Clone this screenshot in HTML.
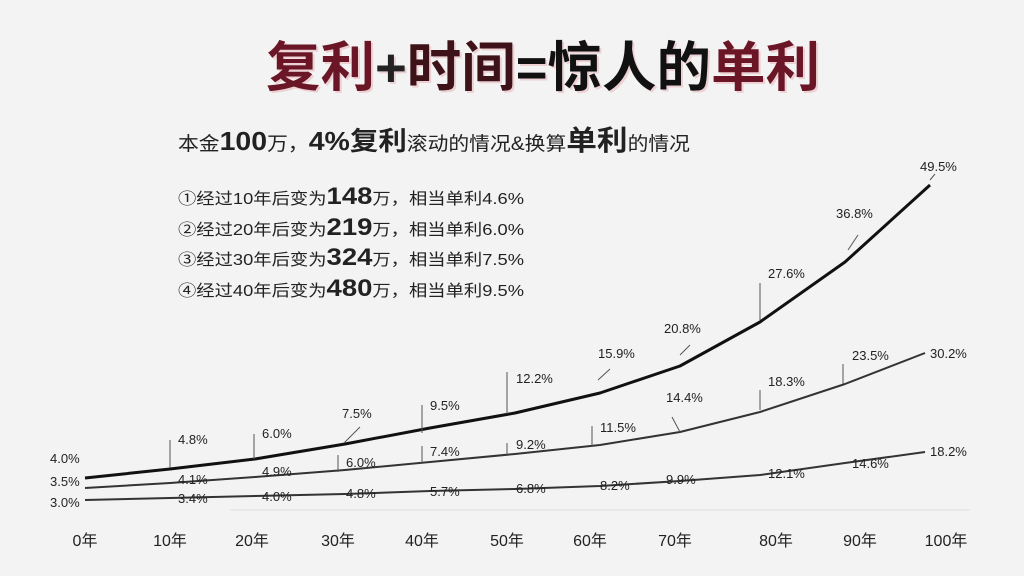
<!DOCTYPE html>
<html><head><meta charset="utf-8"><style>
body{margin:0;background:#f2f2f2;}
svg{display:block;}
text{font-family:"Liberation Sans","Noto Sans CJK SC",sans-serif;}
</style></head><body>
<svg width="1024" height="576" viewBox="0 0 1024 576">
<rect width="1024" height="576" fill="#f3f3f3"/>
<g font-size="54" font-weight="bold">
<text x="266" y="86" textLength="554" lengthAdjust="spacingAndGlyphs" fill="#ecd0d3" transform="translate(2,2)">复利+时间=惊人的单利</text>
<text x="266" y="86" textLength="554" lengthAdjust="spacingAndGlyphs" fill="#111"><tspan fill="#6a1626">复利</tspan><tspan fill="#222">+</tspan><tspan fill="#3e1219">时间</tspan>=惊人的<tspan fill="#6a1626">单利</tspan></text>
</g>
<text x="178" y="150" font-size="19" fill="#222" textLength="512" lengthAdjust="spacingAndGlyphs">本金<tspan font-size="26" font-weight="bold">100</tspan>万，<tspan font-size="26" font-weight="bold">4%复利</tspan>滚动的情况&amp;换算<tspan font-size="28" font-weight="bold">单利</tspan>的情况</text>
<g font-size="16" fill="#222">
<text x="178" y="204" textLength="346" lengthAdjust="spacingAndGlyphs">①经过10年后变为<tspan font-size="24" font-weight="bold">148</tspan>万，相当单利4.6%</text>
<text x="178" y="235" textLength="346" lengthAdjust="spacingAndGlyphs">②经过20年后变为<tspan font-size="24" font-weight="bold">219</tspan>万，相当单利6.0%</text>
<text x="178" y="265" textLength="346" lengthAdjust="spacingAndGlyphs">③经过30年后变为<tspan font-size="24" font-weight="bold">324</tspan>万，相当单利7.5%</text>
<text x="178" y="296" textLength="346" lengthAdjust="spacingAndGlyphs">④经过40年后变为<tspan font-size="24" font-weight="bold">480</tspan>万，相当单利9.5%</text>
</g>
<line x1="230" y1="510" x2="970" y2="510" stroke="#ddd" stroke-width="1"/>
<g fill="none" stroke-linejoin="round">
<polyline stroke="#111" stroke-width="3" points="85,478 170,469 255,459 345,444 430,428 515,413 600,393 680,366 760,322 845,262 930,185"/>
<polyline stroke="#333" stroke-width="2" points="85,488 170,483 255,477 345,470 430,462 515,454 600,445 680,432 760,412 845,384 925,353"/>
<polyline stroke="#333" stroke-width="2" points="85,500 170,498 255,496 345,494 430,491 515,489 600,486 680,481 760,475 845,463 925,452"/>
</g>
<g stroke="#555" stroke-width="1">
<line x1="170" y1="440" x2="170" y2="468"/><line x1="254" y1="434" x2="254" y2="459"/>
<line x1="344" y1="443" x2="360" y2="427"/><line x1="422" y1="405" x2="422" y2="433"/>
<line x1="507" y1="372" x2="507" y2="414"/><line x1="598" y1="380" x2="610" y2="369"/>
<line x1="680" y1="355" x2="690" y2="345"/><line x1="760" y1="283" x2="760" y2="320"/>
<line x1="848" y1="250" x2="858" y2="235"/><line x1="930" y1="180" x2="935" y2="174"/>
<line x1="338" y1="455" x2="338" y2="472"/><line x1="422" y1="446" x2="422" y2="463"/>
<line x1="507" y1="443" x2="507" y2="455"/><line x1="592" y1="426" x2="592" y2="446"/>
<line x1="672" y1="417" x2="680" y2="432"/><line x1="760" y1="390" x2="760" y2="410"/>
<line x1="843" y1="364" x2="843" y2="384"/>
</g>
<g font-size="13" fill="#222">
<text x="50" y="463">4.0%</text><text x="50" y="486">3.5%</text><text x="50" y="507">3.0%</text>
<text x="178" y="444">4.8%</text><text x="262" y="438">6.0%</text><text x="342" y="418">7.5%</text>
<text x="430" y="410">9.5%</text><text x="516" y="383">12.2%</text><text x="598" y="358">15.9%</text>
<text x="664" y="333">20.8%</text><text x="768" y="278">27.6%</text><text x="836" y="218">36.8%</text>
<text x="920" y="171">49.5%</text>
<text x="178" y="484">4.1%</text><text x="262" y="476">4.9%</text><text x="346" y="467">6.0%</text>
<text x="430" y="456">7.4%</text><text x="516" y="449">9.2%</text><text x="600" y="432">11.5%</text>
<text x="666" y="402">14.4%</text><text x="768" y="386">18.3%</text><text x="852" y="360">23.5%</text>
<text x="930" y="358">30.2%</text>
<text x="178" y="503">3.4%</text><text x="262" y="501">4.0%</text><text x="346" y="498">4.8%</text>
<text x="430" y="496">5.7%</text><text x="516" y="493">6.8%</text><text x="600" y="490">8.2%</text>
<text x="666" y="484">9.9%</text><text x="768" y="478">12.1%</text><text x="852" y="468">14.6%</text>
<text x="930" y="456">18.2%</text>
</g>
<g font-size="16" fill="#222" text-anchor="middle">
<text x="85" y="546">0年</text><text x="170" y="546">10年</text><text x="252" y="546">20年</text>
<text x="338" y="546">30年</text><text x="422" y="546">40年</text><text x="507" y="546">50年</text>
<text x="590" y="546">60年</text><text x="675" y="546">70年</text><text x="776" y="546">80年</text>
<text x="860" y="546">90年</text><text x="946" y="546">100年</text>
</g>
</svg>
</body></html>
